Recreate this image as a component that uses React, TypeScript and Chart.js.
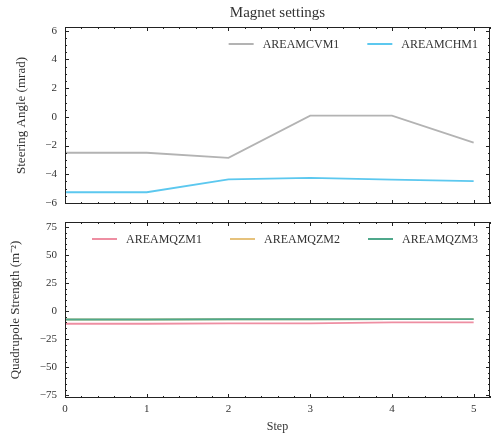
import React, { useEffect, useRef } from "react";
import { Chart, registerables } from "chart.js";
Chart.register(...registerables);

// ---- data ----
const steps = [0, 1, 2, 3, 4, 5];
const cvm1 = [-2.5, -2.5, -2.85, 0.08, 0.08, -1.8];
const chm1 = [-5.25, -5.25, -4.35, -4.25, -4.37, -4.47];
const qzm1 = [-11.2, -11.2, -10.8, -10.8, -10.0, -10.0];
const qzm2 = [-7.4, -7.4, -7.2, -7.2, -7.0, -7.0];
const qzm3 = [-7.4, -7.4, -7.2, -7.2, -7.0, -7.0];
const xTickValues = [0, 1, 2, 3, 4, 5];
const topYTickValues = [-6, -4, -2, 0, 2, 4, 6];
const bottomYTickValues = [-75, -50, -25, 0, 25, 50, 75];

const FONT = "'Liberation Serif', 'Times New Roman', serif";
const TEXT = "#333";
const FRAME = "#222";

Chart.defaults.font.family = FONT;

const pts = (vals: number[]) => steps.map((s, i) => ({ x: s, y: vals[i] }));
const fmt = (v: number | string) => String(v).replace("-", "\u2212");

const framePlugin = {
  id: "frameTicks",
  afterDatasetsDraw(chart: any, _args: any, opts: any) {
    const { ctx, chartArea: a, scales } = chart;
    const xs = scales.x;
    const ys = scales.y;
    ctx.save();
    ctx.strokeStyle = FRAME;
    ctx.lineWidth = 1;
    const seg = (x1: number, y1: number, x2: number, y2: number) => {
      ctx.beginPath();
      ctx.moveTo(x1, y1);
      ctx.lineTo(x2, y2);
      ctx.stroke();
    };
    const gen = (min: number, max: number, step: number) => {
      const out: number[] = [];
      const start = Math.ceil(min / step - 1e-9);
      for (let i = start; i * step <= max + 1e-9; i++) out.push(Math.round(i * step * 1e6) / 1e6);
      return out;
    };
    const drawX = (v: number, len: number) => {
      const p = Math.round(xs.getPixelForValue(v)) + 0.5;
      seg(p, a.top, p, a.top + len);
      seg(p, a.bottom, p, a.bottom - len);
    };
    const drawY = (v: number, len: number) => {
      const p = Math.round(ys.getPixelForValue(v)) + 0.5;
      seg(a.left, p, a.left + len, p);
      seg(a.right, p, a.right - len, p);
    };
    gen(xs.min, xs.max, opts.xMinor).forEach((v) => drawX(v, 2));
    opts.xMajor.forEach((v: number) => drawX(v, 4));
    gen(ys.min, ys.max, opts.yMinor).forEach((v) => drawY(v, 2));
    opts.yMajor.forEach((v: number) => drawY(v, 4));
    ctx.strokeRect(a.left + 0.5, a.top + 0.5, a.right - a.left - 1, a.bottom - a.top - 1);

    if (opts.title) {
      ctx.fillStyle = TEXT;
      ctx.font = `15px ${FONT}`;
      ctx.textAlign = "center";
      ctx.textBaseline = "middle";
      ctx.fillText(opts.title, (a.left + a.right) / 2, 13);
    }

    // legend, upper right inside the axes
    const ds = chart.data.datasets;
    ctx.font = `12px ${FONT}`;
    const lineLen = 25;
    const gapText = 9;
    const gapItem = 28;
    const widths = ds.map((d: any) => ctx.measureText(d.label).width);
    const total =
      widths.reduce((s: number, w: number) => s + lineLen + gapText + w, 0) + gapItem * (ds.length - 1);
    let x = a.right - 12 - total;
    const y = a.top + 17;
    ctx.textAlign = "left";
    ctx.textBaseline = "middle";
    ds.forEach((d: any, i: number) => {
      ctx.strokeStyle = d.borderColor;
      ctx.lineWidth = 2;
      seg(x, y, x + lineLen, y);
      ctx.fillStyle = TEXT;
      ctx.fillText(d.label, x + lineLen + gapText, y + 1);
      x += lineLen + gapText + widths[i] + gapItem;
    });
    ctx.restore();
  },
};

// later datasets are drawn on top (lower order = drawn last)
const lineDs = (label: string, vals: number[], color: string, idx: number) => ({
  label,
  data: pts(vals),
  borderColor: color,
  backgroundColor: color,
  borderWidth: 1.8,
  pointRadius: 0,
  pointHoverRadius: 0,
  tension: 0,
  order: -idx,
});

const yAxisBase = (ticks: number[], min: number, max: number, title: string, titlePad: number) => ({
  type: "linear" as const,
  min,
  max,
  afterFit: (s: any) => {
    s.width = 65;
    s.paddingTop = 0;
    s.paddingBottom = 0;
  },
  afterBuildTicks: (s: any) => {
    s.ticks = ticks.map((v) => ({ value: v }));
  },
  grid: { display: false, drawTicks: false, tickLength: 0 },
  border: { display: false },
  ticks: { padding: 8, color: TEXT, font: { size: 11 }, callback: (v: any) => fmt(v) },
  title: { display: true, text: title, color: TEXT, font: { size: 13 }, padding: { top: titlePad, bottom: 0 } },
});

export default function App() {
  const topRef = useRef<HTMLCanvasElement>(null);
  const botRef = useRef<HTMLCanvasElement>(null);

  useEffect(() => {
    const c1 = new Chart(topRef.current!, {
      type: "line",
      data: {
        datasets: [lineDs("AREAMCVM1", cvm1, "#b3b3b3", 0), lineDs("AREAMCHM1", chm1, "#5cc8ef", 1)],
      },
      options: {
        animation: false,
        responsive: false,
        devicePixelRatio: 1,
        layout: { autoPadding: false, padding: { top: 27, right: 1, bottom: 9, left: 0 } },
        plugins: {
          legend: { display: false },
          tooltip: { enabled: false },
          title: { display: false },
          frameTicks: { xMajor: xTickValues, xMinor: 0.2, yMajor: topYTickValues, yMinor: 0.5, title: "Magnet settings" },
        } as any,
        scales: {
          x: { type: "linear", min: 0, max: 5.2, display: false },
          y: yAxisBase(topYTickValues, -6.07, 6.26, "Steering Angle (mrad)", 14) as any,
        },
      },
      plugins: [framePlugin as any],
    });

    const c2 = new Chart(botRef.current!, {
      type: "line",
      data: {
        datasets: [
          lineDs("AREAMQZM1", qzm1, "#ee8ea2", 0),
          lineDs("AREAMQZM2", qzm2, "#e6c27c", 1),
          lineDs("AREAMQZM3", qzm3, "#4fa88b", 2),
        ],
      },
      options: {
        animation: false,
        responsive: false,
        devicePixelRatio: 1,
        layout: { autoPadding: false, padding: { top: 9, right: 1, bottom: 0, left: 0 } },
        plugins: {
          legend: { display: false },
          tooltip: { enabled: false },
          title: { display: false },
          frameTicks: { xMajor: xTickValues, xMinor: 0.2, yMajor: bottomYTickValues, yMinor: 5 },
        } as any,
        scales: {
          x: {
            type: "linear",
            min: 0,
            max: 5.2,
            afterFit: (s: any) => {
              s.height = 36;
              s.paddingLeft = 0;
              s.paddingRight = 0;
            },
            afterBuildTicks: (s: any) => {
              s.ticks = xTickValues.map((v) => ({ value: v }));
            },
            grid: { display: false, drawTicks: false, tickLength: 0 },
            border: { display: false },
            ticks: { padding: 5, color: TEXT, font: { size: 11 }, maxRotation: 0, callback: (v: any) => fmt(v) },
            title: { display: true, text: "Step", color: TEXT, font: { size: 12 }, padding: { top: 0, bottom: 0 } },
          },
          y: yAxisBase(bottomYTickValues, -77.4, 79.5, "Quadrupole Strength (m\u207B\u00B2)", 8) as any,
        },
      },
      plugins: [framePlugin as any],
    });

    return () => {
      c1.destroy();
      c2.destroy();
    };
  }, []);

  return (
    <div style={{ position: "absolute", left: 0, top: 0, width: 491, height: 434, overflow: "hidden", background: "#fff" }}>
      <canvas ref={topRef} width={491} height={213} style={{ position: "absolute", left: 0, top: 0, width: 491, height: 213 }} />
      <canvas ref={botRef} width={491} height={221} style={{ position: "absolute", left: 0, top: 213, width: 491, height: 221 }} />
    </div>
  );
}
